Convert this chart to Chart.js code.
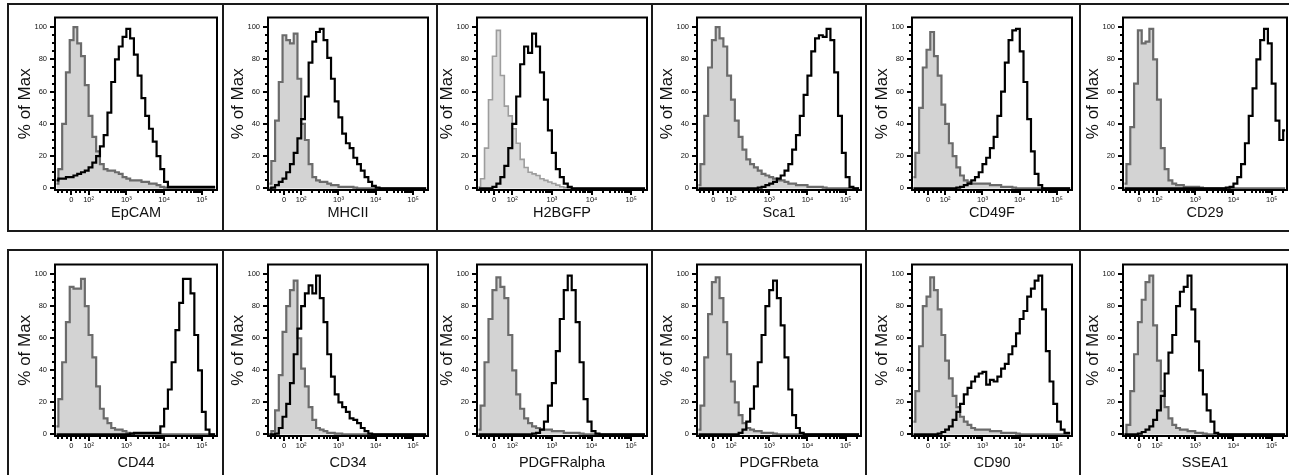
<!DOCTYPE html>
<html>
<head>
<meta charset="utf-8">
<script src="https://cdn.jsdelivr.net/npm/chart.js@4.4.0/dist/chart.umd.min.js"></script>
<style>
  body { margin: 0; background: #fff; width: 1289px; height: 475px; overflow: hidden; position: relative; }
  .rule { position: absolute; background: #1a1a1a; }
  canvas { position: absolute; }
</style>
</head>
<body>
<script>
// channel positions on the biexponential axis (in decades: 2 = 10^2, 3 = 10^3 ...)
const bins = [1.15, 1.25, 1.35, 1.45, 1.55, 1.65, 1.75, 1.85, 1.95, 2.05,
  2.15, 2.25, 2.35, 2.45, 2.55, 2.65, 2.75, 2.85, 2.95, 3.05,
  3.15, 3.25, 3.35, 3.45, 3.55, 3.65, 3.75, 3.85, 3.95, 4.05,
  4.15, 4.25, 4.35, 4.45, 4.55, 4.65, 4.75, 4.85, 4.95, 5.05,
  5.15, 5.25, 5.35];

const xTickValues = [1.54, 2, 3, 4, 5];
const xTickLabels = ["0", "10²", "10³", "10⁴", "10⁵"];
const xMinorTicks = [1.2, 1.3, 1.42, 1.66, 1.78, 1.9, 5.3];
const yTickValues = [0, 20, 40, 60, 80, 100];
const yMinorTicks = [5, 10, 15, 25, 30, 35, 45, 50, 55, 65, 70, 75, 85, 90, 95];

// % of Max, isotype control (grey) and stained (black) per marker
const controlEpCAM = [3,12,40,72,92,100,90,82,64,45, 32,23,15,12,11,11,10,9,7,6, 5,5,5,4,4,3,3,2,1,0.5, 0,0,0,0,0,0,0,0,0,0, 0,0,0];
const stainedEpCAM = [5,6,6,7,7,8,9,10,11,13, 16,20,26,33,47,66,80,88,94,99, 93,83,70,56,45,37,29,20,12,4, 1,1,1,1,1,1,1,1,1,1, 1,1,1];

const controlMHCII = [3,17,42,66,95,92,90,96,68,40, 30,15,7,5,4,4,3,2,2,1, 1,1,1,0.5,0,0,0,0,0,0, 0,0,0,0,0,0,0,0,0,0, 0,0,0];
const stainedMHCII = [0,0.5,2,4,6,10,15,22,31,43, 57,78,91,97,99,92,81,68,54,44, 34,28,25,19,15,11,7,4,1.5,0.5, 0,0,0,0,0,0,0,0,0,0, 0,0,0];

const controlH2BGFP = [1,6,25,55,82,98,70,51,45,37, 28,18,13,10,9,8,6,5,4,3, 2,1,0.5,0,0,0,0,0,0,0, 0,0,0,0,0,0,0,0,0,0, 0,0,0];
const stainedH2BGFP = [0,0,0,0,1,3,7,14,25,40, 57,77,88,84,96,88,72,55,36,22, 12,7,3,1,0,0,0,0,0,0, 0,0,0,0,0,0,0,0,0,0, 0,0,0];

const controlSca1 = [2,15,45,75,92,100,93,88,70,55, 42,32,24,18,15,13,11,9,8,7, 6,5,5,4,3,3,2,2,2,1, 1,1,1,0.5,0,0,0,0,0,0, 0,0,0];
const stainedSca1 = [0,0,0,0,0,0,0,0,0,0, 0,0,0,0,0,0,0.5,1,2,3, 4,6,8,11,15,24,33,45,58,70, 85,93,95,94,99,92,72,45,22,7, 1,0,0];

const controlCD49F = [7,22,50,75,86,97,82,70,52,40, 28,20,13,8,5,4,3,3,3,3, 3,2,2,2,1,1,1,0.5,0,0, 0,0,0,0,0,0,0,0,0,0, 0,0,0];
const stainedCD49F = [0,0,0,0,0,0,0,0,0,0, 0,0,0.5,1,2,3,5,7,10,15, 19,25,32,45,60,78,92,98,99,85, 66,43,23,9,2,0,0,0,0,0, 0,0,0];

const controlCD29 = [3,15,38,65,98,90,91,99,80,55, 25,12,5,3,2,2,1,1,1,1, 0.5,0,0,0,0,0,0,0,0,0, 0,0,0,0,0,0,0,0,0,0, 0,0,0];
const stainedCD29 = [0,0,0,0,0,0,0,0,0,0, 0,0,0,0,0,0,0,0,0,0, 0,0,0,0,0,0,0,0.5,1,3, 7,15,28,45,62,80,92,99,90,65, 42,30,36];

const controlCD44 = [5,22,45,70,92,91,91,97,80,62, 48,30,16,10,7,4,3,3,2,1, 0.5,0,0,0,0,0,0,0,0,0, 0,0,0,0,0,0,0,0,0,0, 0,0,0];
const stainedCD44 = [0,0,0,0,0,0,0,0,0,0, 0,0,0,0,0,0,0,0,0,0, 0.5,1,1,1,1,1,1,1,5,16, 28,45,65,82,97,97,88,62,40,14, 3,0,0];

const controlCD34 = [0,2,15,37,64,80,90,96,60,41, 30,17,9,4,3,2,1,1,0.5,0.5, 0,0,0,0,0,0,0,0,0,0, 0,0,0,0,0,0,0,0,0,0, 0,0,0];
const stainedCD34 = [0,0,0.5,4,11,19,32,50,66,80, 88,93,88,99,85,70,50,36,25,20, 17,14,10,9,7,4,2,0.5,0,0, 0,0,0,0,0,0,0,0,0,0, 0,0,0];

const controlPDGFRalpha = [3,18,45,72,90,98,92,85,62,40, 25,16,10,7,5,4,3,3,3,2, 2,2,1,1,1,1,0.5,0,0,0, 0,0,0,0,0,0,0,0,0,0, 0,0,0];
const stainedPDGFRalpha = [0,0,0,0,0,0,0,0,0,0, 0,0,0,0,0.5,1,3,8,18,32, 52,72,90,99,90,70,45,22,8,2, 0.5,0,0,0,0,0,0,0,0,0, 0,0,0];

const controlPDGFRbeta = [3,18,48,75,95,98,85,70,50,33, 20,12,7,4,3,2,2,1,1,1, 0.5,0,0,0,0,0,0,0,0,0, 0,0,0,0,0,0,0,0,0,0, 0,0,0];
const stainedPDGFRbeta = [0,0,0,0,0,0,0,0,0,0, 0,1,3,8,16,30,45,62,80,90, 96,85,68,48,28,12,4,1,0,0, 0,0,0,0,0,0,0,0,0,0, 0,0,0];

const controlCD90 = [8,27,55,80,86,98,90,78,62,46, 35,24,17,11,8,6,4,3,3,3, 3,2,2,2,1,1,1,1,0.5,0, 0,0,0,0,0,0,0,0,0,0, 0,0,0];
const stainedCD90 = [0,0,0,0,0,0,0,0.5,1.5,3, 5,9,14,19,25,29,33,36,38,39, 31,34,33,36,41,44,50,55,63,72, 77,86,91,96,99,78,52,33,19,8, 3,1,1];

const controlSSEA1 = [0,6,27,50,70,84,95,99,68,46, 27,17,10,6,4,3,3,2,2,1, 1,0.5,0,0,0,0,0,0,0,0, 0,0,0,0,0,0,0,0,0,0, 0,0,0];
const stainedSSEA1 = [0,0,0,0,0.5,1.5,3,5,9,15, 24,38,51,62,80,89,92,99,78,58, 40,25,15,8,1,0,0,0,0,0, 0,0,0,0,0,0,0,0,0,0, 0,0,0];

const panels = [
  ["EpCAM", controlEpCAM, stainedEpCAM],
  ["MHCII", controlMHCII, stainedMHCII],
  ["H2BGFP", controlH2BGFP, stainedH2BGFP],
  ["Sca1", controlSca1, stainedSca1],
  ["CD49F", controlCD49F, stainedCD49F],
  ["CD29", controlCD29, stainedCD29],
  ["CD44", controlCD44, stainedCD44],
  ["CD34", controlCD34, stainedCD34],
  ["PDGFRalpha", controlPDGFRalpha, stainedPDGFRalpha],
  ["PDGFRbeta", controlPDGFRbeta, stainedPDGFRbeta],
  ["CD90", controlCD90, stainedCD90],
  ["SSEA1", controlSSEA1, stainedSSEA1]
];

// layout
const FONT = "'Liberation Sans', Arial, 'DejaVu Sans', sans-serif";
Chart.defaults.font.family = FONT;
const colLines = [8, 223, 437, 652, 866, 1080];
const plotEdges = [[55, 217], [268, 428], [477, 647], [697, 861], [912, 1072], [1123, 1287]];
const rows = [
  { top: 4, bottom: 231, plotTop: 11, plotBottom: 190, gap: 34 },
  { top: 250, bottom: 475, plotTop: 258, plotBottom: 436, gap: 38 }
];

function rule(x, y, w, h) {
  const d = document.createElement("div");
  d.className = "rule";
  Object.assign(d.style, { left: x + "px", top: y + "px", width: w + "px", height: h + "px" });
  document.body.appendChild(d);
}
rows.forEach((r) => {
  rule(8, r.top - 1, 1281, 2);
  if (r.bottom < 475) rule(8, r.bottom - 1, 1281, 2);
  colLines.forEach((x) => rule(x - 1, r.top - 1, 2, r.bottom - r.top + 2));
});

const xMinor = xMinorTicks.slice();
[2, 3, 4].forEach((n) => { for (let k = 2; k <= 9; k++) xMinor.push(n + Math.log10(k)); });

const frame = {
  id: "frame",
  afterDraw(chart) {
    const { ctx, chartArea: a, scales } = chart;
    ctx.save();
    ctx.strokeStyle = "#000";
    ctx.lineWidth = 2;
    ctx.strokeRect(a.left, a.top, a.right - a.left, a.bottom - a.top);
    const xt = (vals, len) => vals.forEach((v) => {
      const px = Math.round(scales.x.getPixelForValue(v));
      ctx.moveTo(px, a.bottom); ctx.lineTo(px, a.bottom + len);
    });
    const yt = (vals, len) => vals.forEach((v) => {
      const py = Math.round(scales.y.getPixelForValue(v));
      ctx.moveTo(a.left, py); ctx.lineTo(a.left - len, py);
    });
    ctx.beginPath();
    xt(xTickValues, 5); xt(xMinor, 3);
    yt(yTickValues, 5); yt(yMinorTicks, 3);
    ctx.stroke();
    ctx.restore();
  }
};

const toPoints = (vals) => bins.map((x, i) => ({ x, y: vals[i] }));

panels.forEach(([marker, control, stained], i) => {
  const r = rows[Math.floor(i / 6)];
  const [left, right] = plotEdges[i % 6];
  const axisW = 50, padTop = 6, padRight = 4;
  const w = right - left + axisW + padRight;
  const h = r.plotBottom - r.plotTop + padTop + r.gap;
  const canvas = document.createElement("canvas");
  canvas.width = w; canvas.height = h;
  Object.assign(canvas.style, { left: (left - axisW) + "px", top: (r.plotTop - padTop) + "px", width: w + "px", height: h + "px" });
  document.body.appendChild(canvas);
  const light = marker === "H2BGFP";

  new Chart(canvas, {
    type: "line",
    data: {
      datasets: [
        { data: toPoints(stained), borderColor: "#000", borderWidth: 2.2, stepped: "middle", pointRadius: 0, fill: false, order: 1 },
        { data: toPoints(control), borderColor: light ? "#9d9d9d" : "#6b6b6b", borderWidth: light ? 1.6 : 2.2,
          backgroundColor: light ? "#dcdcdc" : "#d3d3d3", fill: "origin", stepped: "middle", pointRadius: 0, order: 2 }
      ]
    },
    options: {
      responsive: false,
      animation: false,
      events: [],
      layout: { padding: { top: padTop, right: padRight, left: 0, bottom: 0 } },
      plugins: { legend: { display: false }, tooltip: { enabled: false } },
      scales: {
        x: {
          type: "linear", min: 1.11, max: 5.4,
          grid: { display: false, drawTicks: false }, border: { display: false },
          afterBuildTicks: (s) => { s.ticks = xTickValues.map((value) => ({ value })); },
          afterFit: (s) => { s.height = r.gap; },
          ticks: { autoSkip: false, maxRotation: 0, padding: 5, color: "#111", font: { size: 7.5 },
            callback: (v) => xTickLabels[xTickValues.indexOf(v)] },
          title: { display: true, text: marker, color: "#111", font: { size: 14.5 }, padding: { top: 0, bottom: 2 } }
        },
        y: {
          min: -1, max: 106,
          grid: { display: false, drawTicks: false }, border: { display: false },
          afterBuildTicks: (s) => { s.ticks = yTickValues.map((value) => ({ value })); },
          afterFit: (s) => { s.width = axisW; },
          ticks: { padding: 8, color: "#111", font: { size: 7.5 } },
          title: { display: true, text: "% of Max", color: "#111", font: { size: 17 }, padding: { top: 10, bottom: 0 } }
        }
      }
    },
    plugins: [frame]
  });
});
</script>
</body>
</html>
